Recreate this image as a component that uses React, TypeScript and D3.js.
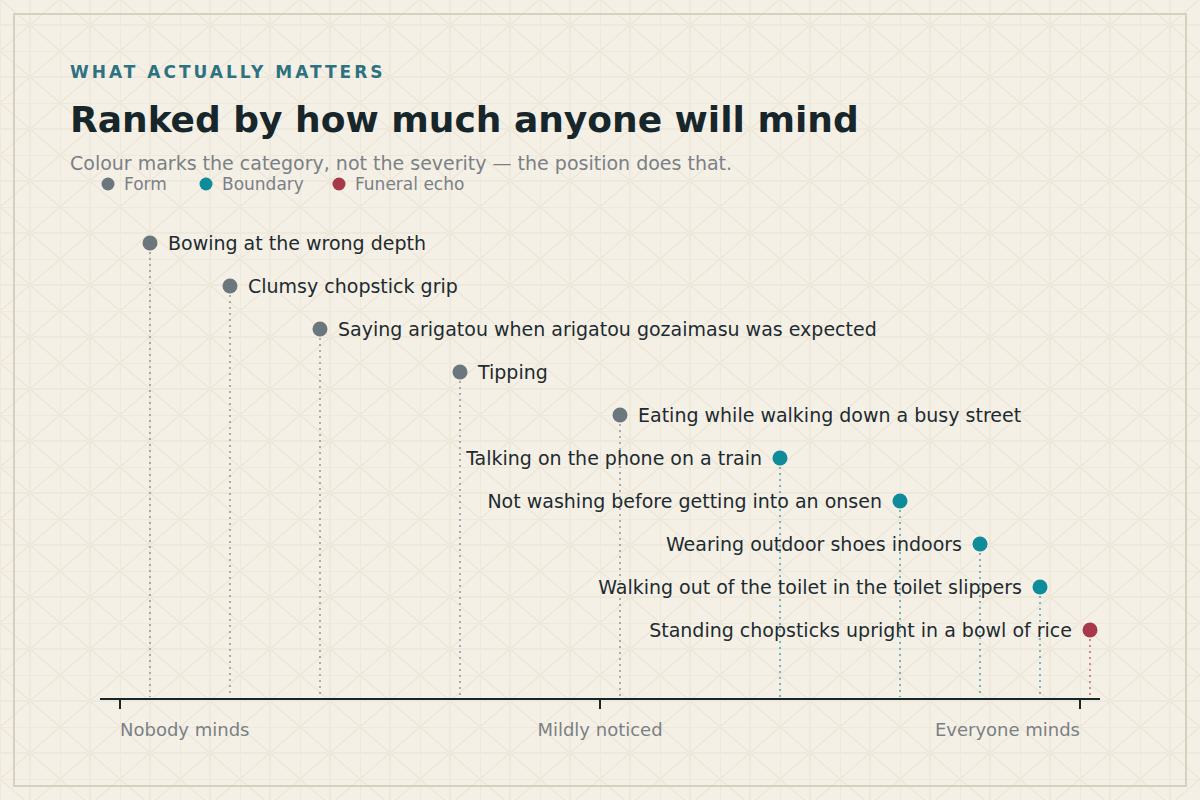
import React from "react";
import * as d3 from "d3";

const items = [
  "Bowing at the wrong depth",
  "Clumsy chopstick grip",
  "Saying arigatou when arigatou gozaimasu was expected",
  "Tipping",
  "Eating while walking down a busy street",
  "Talking on the phone on a train",
  "Not washing before getting into an onsen",
  "Wearing outdoor shoes indoors",
  "Walking out of the toilet in the toilet slippers",
  "Standing chopsticks upright in a bowl of rice",
];
const scores = [5, 13, 22, 36, 52, 68, 80, 88, 94, 99];
const categories = ["Form", "Form", "Form", "Form", "Form", "Boundary", "Boundary", "Boundary", "Boundary", "Funeral echo"];
const legendCats = ["Form", "Boundary", "Funeral echo"];
const catColors = ["#6b777c", "#0e8c99", "#a8394a"];
const tickValues = [2, 50, 98];
const tickLabels = ["Nobody minds", "Mildly noticed", "Everyone minds"];

const W = 1200;
const H = 800;
const FONT = "'DejaVu Sans', sans-serif";

export default function App() {
  const x = d3.scaleLinear().domain([0, 100]).range([100, 1100]);
  const y = d3.scaleBand<number>().domain(d3.range(items.length)).range([221.5, 651.5]);
  const color = d3.scaleOrdinal<string, string>().domain(legendCats).range(catColors);
  const axisY = 699;
  const legendX = [108, 206, 339];

  return (
    <svg width={W} height={H} style={{ position: "absolute", left: 0, top: 0, display: "block" }}>
      <defs>
        <pattern id="bgp" width={60} height={52} patternUnits="userSpaceOnUse" x={0} y={-1}>
          <rect width={60} height={52} fill="#f5f0e6" />
          <path d="M0,0 L60,52 M60,0 L0,52" stroke="#ece5d6" strokeWidth={1.1} fill="none" />
          <path d="M30,0 V52 M0,0 V52 M0,26 H60 M0,0 H60" stroke="#efe9dc" strokeWidth={2} fill="none" />
        </pattern>
      </defs>
      <rect width={W} height={H} fill="url(#bgp)" />
      <rect x={14} y={14} width={1172} height={772} fill="none" stroke="#d8d0bf" strokeWidth={2} />

      <text x={70} y={78} fontFamily={FONT} fontSize={17} fontWeight="bold" fill="#2e7282" letterSpacing={3}>
        WHAT ACTUALLY MATTERS
      </text>
      <text x={70} y={132} fontFamily={FONT} fontSize={36} fontWeight="bold" fill="#17262b">
        Ranked by how much anyone will mind
      </text>
      <text x={70} y={170} fontFamily={FONT} fontSize={19} fill="#7a8085">
        Colour marks the category, not the severity — the position does that.
      </text>
      {legendCats.map((c, i) => (
        <g key={c}>
          <circle cx={legendX[i]} cy={184} r={6.5} fill={color(c)} />
          <text x={legendX[i] + 16} y={190} fontFamily={FONT} fontSize={17} fill="#7a8085">
            {c}
          </text>
        </g>
      ))}

      {items.map((label, i) => {
        const cx = x(scores[i]);
        const cy = (y(i) ?? 0) + y.bandwidth() / 2;
        const col = color(categories[i]);
        const right = i < 5;
        return (
          <g key={label}>
            <line x1={cx} x2={cx} y1={cy + 9} y2={axisY - 2} stroke={col} strokeOpacity={0.55} strokeWidth={2} strokeDasharray="2,4" />
            <circle cx={cx} cy={cy} r={7.5} fill={col} />
            <text
              x={right ? cx + 18 : cx - 18}
              y={cy + 6.5}
              textAnchor={right ? "start" : "end"}
              fontFamily={FONT}
              fontSize={19}
              fill="#1d2b30"
            >
              {label}
            </text>
          </g>
        );
      })}

      <line x1={100} x2={1100} y1={axisY} y2={axisY} stroke="#17262b" strokeWidth={2} />
      {tickValues.map((v, i) => (
        <g key={v}>
          <line x1={x(v)} x2={x(v)} y1={axisY} y2={axisY + 10} stroke="#17262b" strokeWidth={2} />
          <text
            x={x(v)}
            y={736}
            textAnchor={i === 0 ? "start" : i === 1 ? "middle" : "end"}
            fontFamily={FONT}
            fontSize={18}
            fill="#7a8085"
          >
            {tickLabels[i]}
          </text>
        </g>
      ))}
    </svg>
  );
}
